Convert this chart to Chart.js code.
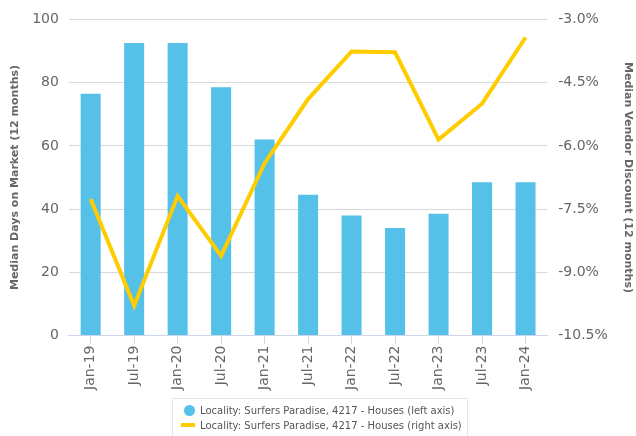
<!DOCTYPE html>
<html>
<head>
<meta charset="utf-8">
<script src="https://cdn.jsdelivr.net/npm/chart.js@4"></script>
<style>
  body { margin: 0; background: #fff; }
  #wrap { position: relative; width: 636px; height: 436px; overflow: hidden; }
  #legend {
    position: absolute; left: 172px; top: 398px; width: 296px; height: 44px;
    border: 1px solid #e6e6e6; box-sizing: border-box;
    font: 10px "DejaVu Sans", sans-serif; color: #555; padding: 4px 0 0 8px;
  }
  .item { height: 15px; line-height: 15px; white-space: nowrap; }
  .dot { display: inline-block; width: 11px; height: 11px; border-radius: 50%; background: #55c1e8; vertical-align: -2px; margin: 0 5px 0 3px; }
  .bar { display: inline-block; width: 14px; height: 4px; background: #ffcc00; vertical-align: 2px; margin-right: 5px; }
</style>
</head>
<body>
<div id="wrap">
  <canvas id="myChart" width="636" height="436"></canvas>
  <div id="legend">
    <div class="item"><span class="dot"></span>Locality: Surfers Paradise, 4217 - Houses (left axis)</div>
    <div class="item"><span class="bar"></span>Locality: Surfers Paradise, 4217 - Houses (right axis)</div>
  </div>
</div>
<script>
const labels = ['Jan-19', 'Jul-19', 'Jan-20', 'Jul-20', 'Jan-21', 'Jul-21', 'Jan-22', 'Jul-22', 'Jan-23', 'Jul-23', 'Jan-24'];
const daysOnMarket = [76.5, 92.5, 92.5, 78.5, 62, 44.5, 38, 34, 38.5, 48.5, 48.5];
const vendorDiscount = [-7.26, -9.79, -7.19, -8.61, -6.41, -4.89, -3.76, -3.78, -5.85, -5.0, -3.43];

const tickFont = { family: 'DejaVu Sans', size: 14 };
const titleFont = { family: 'DejaVu Sans', size: 11, weight: 'bold' };

const ctx = document.getElementById('myChart').getContext('2d');
new Chart(ctx, {
  data: {
    labels: labels,
    datasets: [
      {
        type: 'line',
        label: 'Locality: Surfers Paradise, 4217 - Houses (right axis)',
        data: vendorDiscount,
        yAxisID: 'y1',
        borderColor: '#ffcc00',
        borderWidth: 4,
        pointRadius: 0,
        tension: 0,
      },
      {
        type: 'bar',
        label: 'Locality: Surfers Paradise, 4217 - Houses (left axis)',
        data: daysOnMarket,
        yAxisID: 'y',
        backgroundColor: '#55c1e8',
        barPercentage: 0.46,
        categoryPercentage: 1,
      },
    ],
  },
  options: {
    responsive: false,
    animation: false,
    layout: { padding: { top: 10, left: 9, right: 0, bottom: 44 } },
    plugins: { legend: { display: false }, tooltip: { enabled: false } },
    scales: {
      x: {
        offset: true,
        grid: { offset: false, drawOnChartArea: false, drawTicks: true, tickLength: 8, color: '#ccd6eb' },
        border: { color: '#ccd6eb' },
        ticks: { font: tickFont, color: '#666', minRotation: 90, maxRotation: 90, padding: 2 },
      },
      y: {
        position: 'left',
        min: 0, max: 100,
        ticks: { stepSize: 20, font: tickFont, color: '#666', padding: 10 },
        grid: { color: '#d9d9d9', drawTicks: false },
        border: { display: false },
        title: { display: true, text: 'Median Days on Market (12 months)', font: titleFont, color: '#666', padding: { top: 0, bottom: 0 } },
      },
      y1: {
        position: 'right',
        min: -10.5, max: -3,
        ticks: { stepSize: 1.5, font: tickFont, color: '#666', padding: 11, callback: v => v.toFixed(1) + '%' },
        grid: { drawOnChartArea: false, drawTicks: false },
        border: { display: false },
        title: { display: true, text: 'Median Vendor Discount (12 months)', font: titleFont, color: '#666', padding: 2 },
      },
    },
  },
});
</script>
</body>
</html>
